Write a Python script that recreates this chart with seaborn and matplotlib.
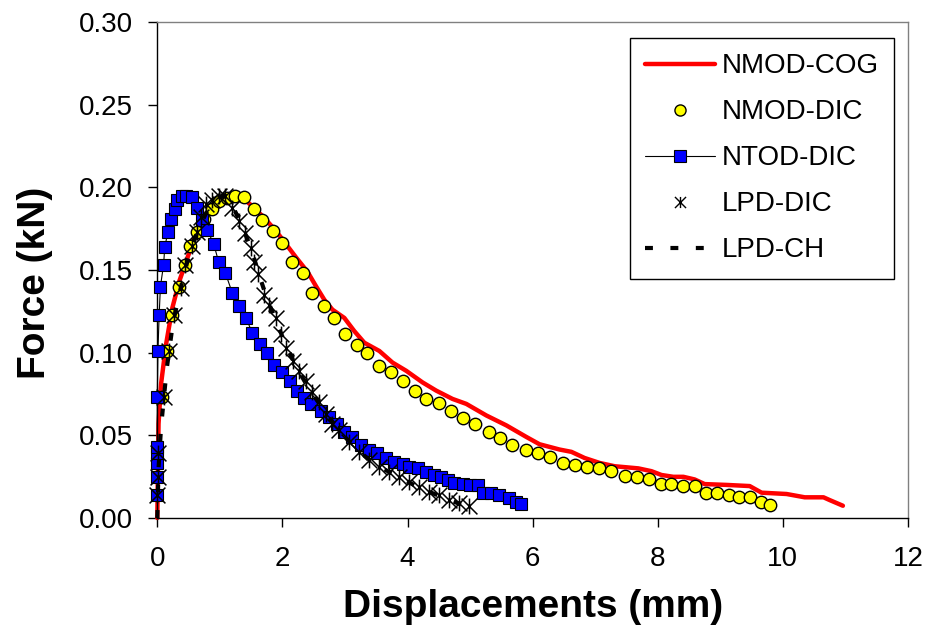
import matplotlib
matplotlib.use("Agg")
import matplotlib.pyplot as plt
from matplotlib.path import Path
from matplotlib.lines import Line2D
import seaborn as sns

# ---------------- data ----------------
cog_x = [0.00, 0.01, 0.02, 0.06, 0.14, 0.24, 0.35, 0.46, 0.59, 0.72, 0.88, 1.05, 1.23, 1.36,
         1.52, 1.71, 1.90, 2.06, 2.22, 2.40, 2.54, 2.67, 2.80, 2.99, 3.15, 3.31, 3.55, 3.76,
         3.98, 4.24, 4.46, 4.72, 4.94, 5.26, 5.58, 5.90, 6.11, 6.43, 6.62, 6.83, 7.07, 7.31,
         7.69, 7.90, 8.06, 8.25, 8.41, 8.59, 8.75, 9.10, 9.47, 9.66, 10.06, 10.35, 10.65,
         10.75, 10.96]
cog_y = [0.000, 0.030, 0.057, 0.081, 0.105, 0.127, 0.143, 0.155, 0.169, 0.1795, 0.1886, 0.1936,
         0.1956, 0.1936, 0.1886, 0.1815, 0.1735, 0.1655, 0.1575, 0.149, 0.140, 0.132, 0.126,
         0.121, 0.113, 0.106, 0.101, 0.094, 0.089, 0.082, 0.077, 0.072, 0.069, 0.062, 0.056,
         0.049, 0.0446, 0.0414, 0.040, 0.0363, 0.0333, 0.0313, 0.030, 0.0283, 0.026, 0.0249,
         0.0249, 0.0233, 0.0205, 0.020, 0.0193, 0.0153, 0.0145, 0.0125, 0.0125, 0.0108, 0.0074]

nmod_dic_x = [0.075, 0.15, 0.235, 0.34, 0.44, 0.53, 0.63, 0.75, 0.87, 0.99, 1.11, 1.25, 1.39,
              1.54, 1.67, 1.85, 2.00, 2.15, 2.33, 2.48, 2.66, 2.83, 3.00, 3.19, 3.35, 3.54,
              3.73, 3.93, 4.12, 4.30, 4.50, 4.70, 4.88, 5.08, 5.30, 5.48, 5.67, 5.90, 6.08,
              6.27, 6.49, 6.68, 6.87, 7.06, 7.26, 7.48, 7.67, 7.86, 8.05, 8.22, 8.41, 8.59,
              8.77, 8.95, 9.14, 9.30, 9.48, 9.65, 9.79]
nmod_dic_y = [0.073, 0.101, 0.123, 0.140, 0.153, 0.1645, 0.173, 0.181, 0.187, 0.192, 0.1936,
              0.195, 0.194, 0.187, 0.1805, 0.1735, 0.1665, 0.155, 0.148, 0.136, 0.128, 0.121,
              0.1114, 0.1046, 0.100, 0.092, 0.088, 0.083, 0.0767, 0.072, 0.0695, 0.065, 0.0606,
              0.057, 0.052, 0.0486, 0.044, 0.0414, 0.0396, 0.0366, 0.0334, 0.032, 0.0307,
              0.030, 0.0283, 0.0255, 0.0245, 0.0233, 0.0205, 0.0205, 0.0195, 0.0195, 0.0153,
              0.0149, 0.0139, 0.0125, 0.0128, 0.0098, 0.0078]

ntod_x = [0.00, 0.00, 0.00, 0.00, 0.00, 0.00, 0.01, 0.03, 0.05, 0.10, 0.12, 0.17, 0.22, 0.29,
          0.32, 0.40, 0.46, 0.55, 0.63, 0.72, 0.80, 0.90, 0.98, 1.09, 1.20, 1.30, 1.42, 1.52,
          1.64, 1.75, 1.87, 2.00, 2.12, 2.23, 2.34, 2.46, 2.62, 2.75, 2.88, 2.99, 3.12, 3.26,
          3.39, 3.52, 3.66, 3.79, 3.92, 4.03, 4.16, 4.30, 4.43, 4.54, 4.64, 4.75, 4.88, 5.00,
          5.12, 5.20, 5.34, 5.47, 5.62, 5.73, 5.82]
ntod_y = [0.014, 0.025, 0.033, 0.039, 0.043, 0.073, 0.101, 0.123, 0.140, 0.153, 0.164, 0.173,
          0.181, 0.187, 0.1925, 0.1946, 0.195, 0.194, 0.1875, 0.1805, 0.174, 0.166, 0.155,
          0.148, 0.136, 0.128, 0.121, 0.1116, 0.105, 0.100, 0.0926, 0.088, 0.0827, 0.0767,
          0.0723, 0.069, 0.065, 0.061, 0.0566, 0.052, 0.049, 0.044, 0.0414, 0.0394, 0.0365,
          0.034, 0.0325, 0.031, 0.030, 0.028, 0.026, 0.0249, 0.023, 0.021, 0.0205, 0.020,
          0.020, 0.0153, 0.0149, 0.0139, 0.0119, 0.0098, 0.0082]

lpd_dic_x = [0.00, 0.01, 0.01, 0.11, 0.19, 0.27, 0.38, 0.44, 0.56, 0.63, 0.70, 0.78, 0.88, 0.99,
             1.09, 1.20, 1.31, 1.41, 1.50, 1.55, 1.61, 1.71, 1.79, 1.90, 1.98, 2.06, 2.17,
             2.27, 2.38, 2.48, 2.59, 2.70, 2.80, 2.91, 3.07, 3.23, 3.39, 3.55, 3.71, 3.87,
             4.03, 4.19, 4.35, 4.51, 4.67, 4.83, 4.99]
lpd_dic_y = [0.014, 0.025, 0.039, 0.073, 0.101, 0.123, 0.139, 0.153, 0.1645, 0.173, 0.182,
             0.190, 0.1925, 0.1946, 0.195, 0.1875, 0.1795, 0.1725, 0.1634, 0.155, 0.1474,
             0.135, 0.129, 0.121, 0.111, 0.103, 0.095, 0.089, 0.083, 0.076, 0.070, 0.063,
             0.057, 0.053, 0.046, 0.040, 0.035, 0.031, 0.028, 0.025, 0.022, 0.019, 0.016,
             0.014, 0.011, 0.009, 0.007]

lpd_ch_x = [0.00, 0.02, 0.06, 0.15, 0.25, 0.38, 0.50, 0.65, 0.80, 0.95, 1.08, 1.20, 1.35, 1.50,
            1.62, 1.75, 1.90, 2.05, 2.20, 2.35, 2.50, 2.65, 2.80, 3.00, 3.20, 3.40, 3.60,
            3.80, 4.00, 4.20, 4.40, 4.60, 4.80, 5.00]
lpd_ch_y = [0.000, 0.030, 0.055, 0.090, 0.118, 0.140, 0.158, 0.174, 0.186, 0.193, 0.195,
            0.189, 0.177, 0.163, 0.148, 0.133, 0.119, 0.105, 0.093, 0.083, 0.074, 0.066,
            0.058, 0.049, 0.041, 0.035, 0.030, 0.026, 0.022, 0.018, 0.015, 0.012, 0.009, 0.006]

series_labels = ["NMOD-COG", "NMOD-DIC", "NTOD-DIC", "LPD-DIC", "LPD-CH"]
x_ticks = [0, 2, 4, 6, 8, 10, 12]
y_ticks = [0.00, 0.05, 0.10, 0.15, 0.20, 0.25, 0.30]

# ---------------- style ----------------
sns.set_theme(style="white", rc={
    "text.color": "black", "axes.labelcolor": "black",
    "xtick.color": "black", "ytick.color": "black",
})
plt.rcParams["font.family"] = ["Liberation Sans", "DejaVu Sans"]

# asterisk marker (X with a vertical bar)
star = Path([(-1, -1), (1, 1), (-1, 1), (1, -1), (0, -1), (0, 1)],
            [Path.MOVETO, Path.LINETO, Path.MOVETO, Path.LINETO, Path.MOVETO, Path.LINETO])

fig = plt.figure(figsize=(9.28, 6.28), dpi=100)
ax = fig.add_axes([0.1695, 0.1752, 0.8089, 0.7898])

red = "#ff0000"
yellow = "#ffff00"
blue = "#0000ff"
dash = (0, (1.9, 4.2))

sns.lineplot(x=cog_x, y=cog_y, ax=ax, color=red, lw=3.2, sort=False, estimator=None,
             zorder=2, clip_on=False)
sns.scatterplot(x=nmod_dic_x, y=nmod_dic_y, ax=ax, marker="o", s=80, color=yellow,
                edgecolor="black", linewidth=1.0, zorder=3, clip_on=False)
sns.lineplot(x=ntod_x, y=ntod_y, ax=ax, color="black", lw=0.8, marker="s", markersize=8,
             markerfacecolor=blue, markeredgecolor="black", markeredgewidth=0.8,
             sort=False, estimator=None, zorder=4, clip_on=False)
sns.scatterplot(x=lpd_dic_x, y=lpd_dic_y, ax=ax, marker=star, s=130, color="black",
                edgecolor="black", linewidth=1.1, zorder=5, clip_on=False)
sns.lineplot(x=lpd_ch_x, y=lpd_ch_y, ax=ax, color="black", lw=3.0, linestyle=dash,
             sort=False, estimator=None, zorder=6, clip_on=False)

ax.set_xlim(0, 12)
ax.set_ylim(0, 0.30)
ax.set_xticks(x_ticks)
ax.set_xticklabels([str(t) for t in x_ticks])
ax.set_yticks(y_ticks)
ax.set_yticklabels([f"{t:.2f}" for t in y_ticks])

ax.tick_params(axis="both", which="major", direction="out", length=6.5, width=1,
               color="black", labelsize=20, bottom=True, left=True, top=False, right=False)
ax.tick_params(axis="x", pad=14)
ax.tick_params(axis="y", pad=11)

for side in ["left", "bottom"]:
    ax.spines[side].set_color("black")
    ax.spines[side].set_linewidth(1.0)
for side in ["top", "right"]:
    ax.spines[side].set_color("#808080")
    ax.spines[side].set_linewidth(1.0)

ax.set_xlabel("Displacements (mm)", fontsize=28, fontweight="bold")
ax.set_ylabel("Force (kN)", fontsize=28, fontweight="bold")
ax.xaxis.set_label_coords(0.5, -0.143)
ax.yaxis.set_label_coords(-0.1385, 0.475)

handles = [
    Line2D([], [], color=red, lw=3.2),
    Line2D([], [], ls="none", marker="o", ms=8, mfc=yellow, mec="black", mew=1.0),
    Line2D([], [], color="black", lw=0.8, marker="s", ms=8, mfc=blue, mec="black", mew=0.8),
    Line2D([], [], ls="none", marker=star, ms=8, color="black", mfc="none", mew=1.0),
    Line2D([], [], color="black", lw=3.0, ls=dash),
]
leg = ax.legend(handles, series_labels, loc="upper right", bbox_to_anchor=(0.9813, 0.9677),
                borderaxespad=0, frameon=True, fancybox=False, edgecolor="black",
                framealpha=1, fontsize=20, handlelength=2.5, handletextpad=0.25,
                labelspacing=0.72, borderpad=0.55)
leg.get_frame().set_linewidth(1.0)

fig.savefig("out.png", dpi=100)
